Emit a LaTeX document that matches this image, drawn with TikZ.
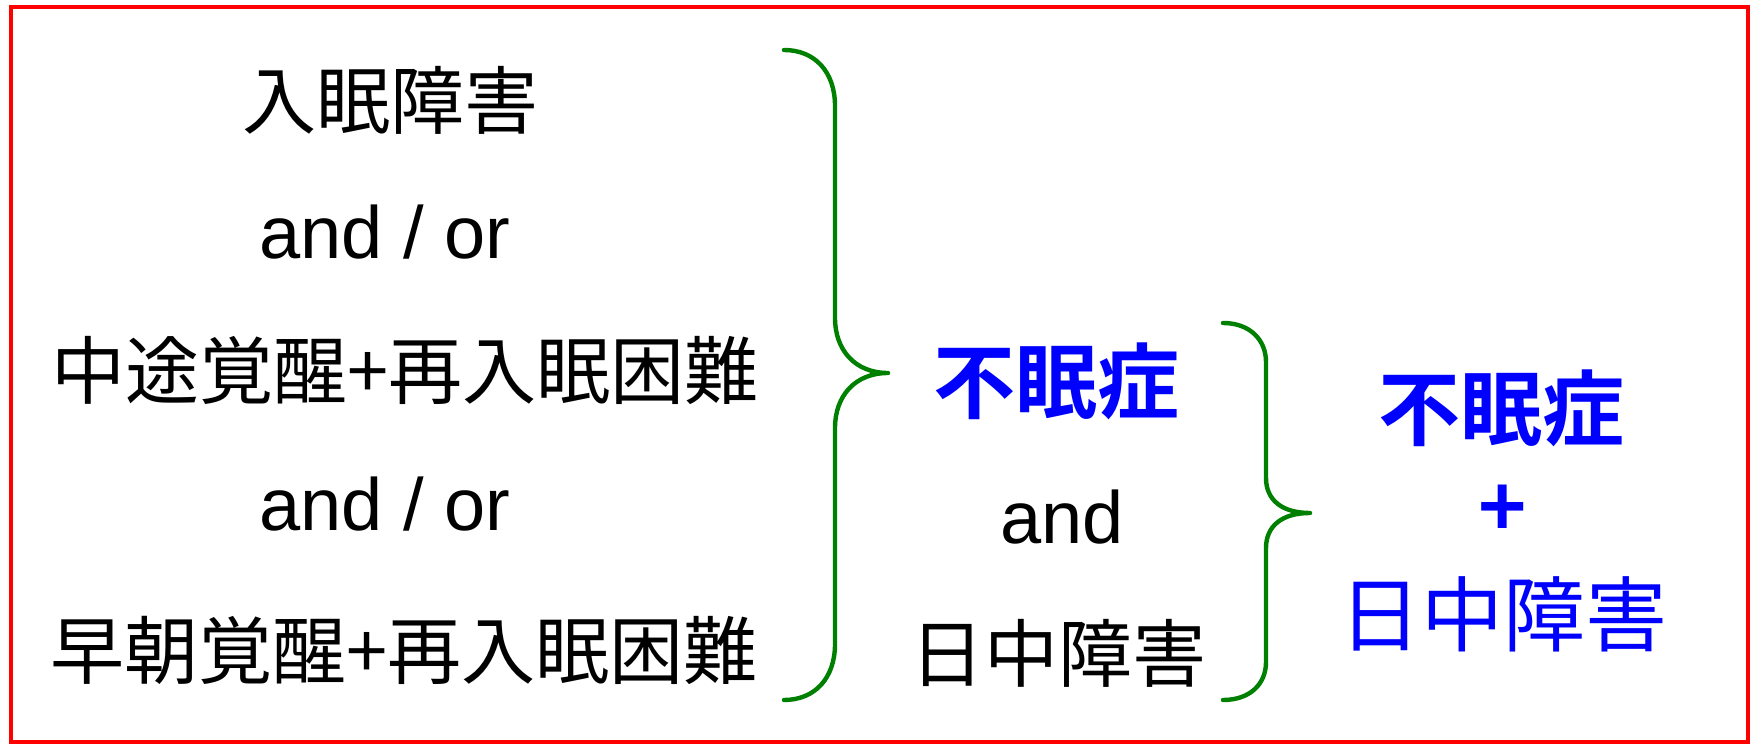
\documentclass[tikz,border=0pt]{standalone}
\usepackage{fontspec}
\setmainfont{Liberation Sans}
\newfontfamily\jp{Noto Sans CJK JP}
\newfontfamily\jpb{Noto Sans CJK JP Bold}
\definecolor{bracegreen}{RGB}{0,128,0}
\definecolor{txtblue}{RGB}{0,0,255}
\begin{document}
\begin{tikzpicture}[x=0.5pt,y=-0.5pt,
  lbl/.style={inner sep=0pt, anchor=center},
  leftt/.style={lbl, font=\jp\fontsize{37}{40}\selectfont},
  lat/.style={lbl, font=\fontsize{37}{40}\selectfont},
  bluebig/.style={lbl, text=txtblue, font=\jpb\fontsize{41}{44}\selectfont},
  bluenorm/.style={lbl, text=txtblue, font=\jp\fontsize{41}{44}\selectfont},
  bracep/.style={draw=bracegreen, line width=2.2pt, line cap=round, line join=round}]
\useasboundingbox[fill=white] (0,0) rectangle (1756,747);
\draw[red, line width=2pt] (11,7) rectangle (1748,742);
% left column
\node[leftt] (a1) at (390,100) {入眠障害};
\node[lat] (o1) at (385,232) {and / or};
\node[leftt] (a2) at (405,370) {中途覚醒+再入眠困難};
\node[lat] (o2) at (385,504) {and / or};
\node[leftt] (a3) at (404,650) {早朝覚醒+再入眠困難};
% middle column
\node[bluebig] (m1) at (1056,381) {不眠症};
\node[lat] (m2) at (1062,517) {and};
\node[leftt] (m3) at (1058,653) {日中障害};
% right column
\node[bluebig] (r1) at (1501,408) {不眠症};
\node[bluebig] (r2) at (1503,511) {+};
\node[bluenorm] (r3) at (1503,614) {日中障害};
% big brace
\coordinate (b1t) at (784,50);
\coordinate (b1tip) at (888,373);
\coordinate (b1b) at (784,700);
\draw[bracep] (b1t) .. controls (815,50) and (835,72) .. (835,106)
  -- (835,318) .. controls (835,350) and (855,373) .. (b1tip)
  .. controls (855,373) and (835,396) .. (835,428)
  -- (835,644) .. controls (835,678) and (815,700) .. (b1b);
% small brace
\coordinate (b2t) at (1223,323);
\coordinate (b2tip) at (1310,513);
\coordinate (b2b) at (1223,700);
\draw[bracep] (b2t) .. controls (1250,323) and (1266,340) .. (1266,362)
  -- (1266,478) .. controls (1266,500) and (1282,513) .. (b2tip)
  .. controls (1282,513) and (1266,526) .. (1266,548)
  -- (1266,662) .. controls (1266,684) and (1250,700) .. (b2b);
\end{tikzpicture}
\end{document}
